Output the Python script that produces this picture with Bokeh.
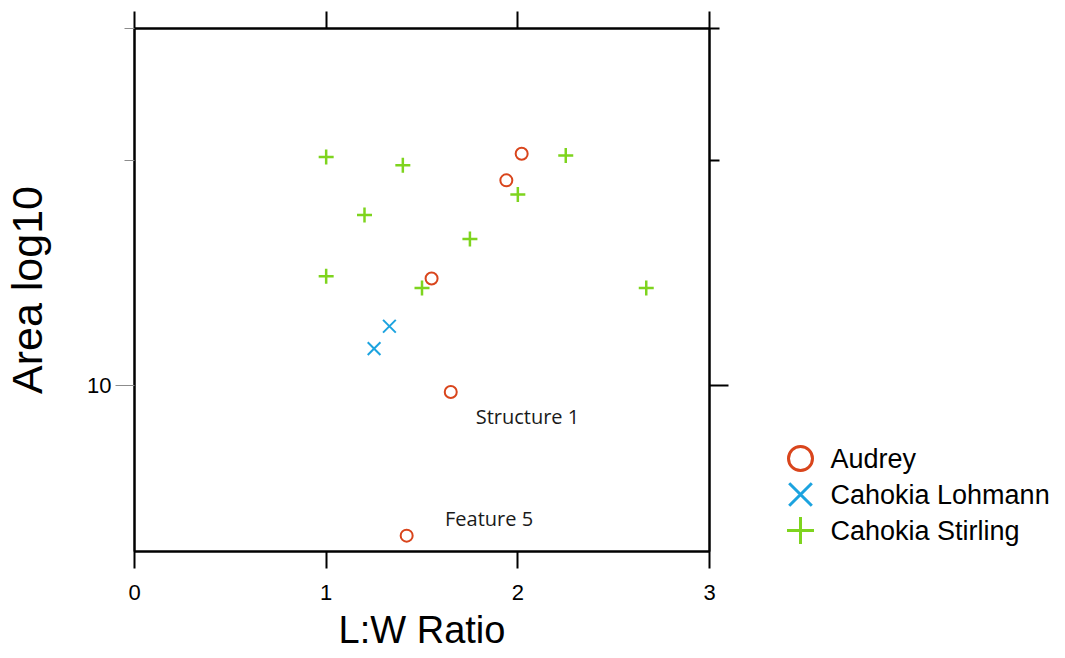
from bokeh.plotting import figure
from bokeh.layouts import row
from bokeh.models import (Range1d, FixedTicker, LinearAxis, LogAxis, PrintfTickFormatter,
                          ColumnDataSource)
from bokeh.core.properties import value
from bokeh.embed import file_html
from bokeh.resources import INLINE

# ---------------- data ----------------
audrey_lw = [2.02, 1.94, 1.55, 1.65, 1.42]
audrey_area = [20.4, 18.8, 13.9, 9.8, 6.3]

lohmann_lw = [1.25, 1.33]
lohmann_area = [11.2, 12.0]

stirling_lw = [1.0, 1.4, 1.2, 2.0, 1.75, 1.0, 1.5, 2.25, 2.67]
stirling_area = [20.2, 19.7, 16.9, 18.0, 15.7, 14.0, 13.5, 20.3, 13.5]

x_ticks = [0, 1, 2, 3]
y_major_ticks = [10]
y_minor_ticks = [20, 30]

annot_text = ["Structure 1", "Feature 5"]
annot_x = [1.78, 1.62]
annot_y = [9.09, 6.64]

series_names = ["Audrey", "Cahokia Lohmann", "Cahokia Stirling"]

# ---------------- styles ----------------
C_AUD = "#D9451C"
C_LOH = "#1CA3DF"
C_STI = "#7ED41E"
series_colors = [C_AUD, C_LOH, C_STI]
series_markers = ["circle", "x", "cross"]
legend_marker_sizes = [24, 32, 27]
FONT = "Liberation Sans"

W_MAIN = 749
W_LEG = 313
H = 657
B_TOP = 28
B_BOTTOM = 106

p = figure(width=W_MAIN, height=H, x_range=Range1d(0, 3), y_range=Range1d(6, 30),
           y_axis_type="log", output_backend="svg", toolbar_location=None,
           min_border_left=133, min_border_right=40, min_border_top=B_TOP,
           min_border_bottom=B_BOTTOM)
p.grid.visible = False
p.outline_line_color = "black"
p.outline_line_width = 2
p.background_fill_color = "white"
p.border_fill_color = "white"

# bottom axis
xa = p.xaxis[0]
xa.ticker = FixedTicker(ticks=x_ticks, minor_ticks=[])
xa.major_tick_in = 0
xa.major_tick_out = 17
xa.minor_tick_in = 0
xa.minor_tick_out = 0
xa.major_tick_line_width = 2
xa.major_tick_line_color = "black"
xa.axis_line_width = 2
xa.axis_line_color = "black"
xa.major_label_text_font = FONT
xa.major_label_text_font_size = "22px"
xa.major_label_text_color = "black"
xa.major_label_standoff = 16
xa.axis_label = "L:W Ratio"
xa.axis_label_text_font = FONT
xa.axis_label_text_font_size = "38px"
xa.axis_label_text_font_style = "normal"
xa.axis_label_text_color = "black"
xa.axis_label_standoff = 6

# left axis
ya = p.yaxis[0]
ya.ticker = FixedTicker(ticks=y_major_ticks, minor_ticks=y_minor_ticks)
ya.formatter = PrintfTickFormatter(format="%d")
ya.major_tick_in = 0
ya.major_tick_out = 19
ya.minor_tick_in = 0
ya.minor_tick_out = 10
ya.major_tick_line_color = "#8c8c8c"
ya.minor_tick_line_color = "#8c8c8c"
ya.major_tick_line_width = 1
ya.minor_tick_line_width = 1
ya.axis_line_width = 2
ya.axis_line_color = "black"
ya.major_label_text_font = FONT
ya.major_label_text_font_size = "22px"
ya.major_label_text_color = "black"
ya.major_label_standoff = 4
ya.axis_label = "Area log10"
ya.axis_label_text_font = FONT
ya.axis_label_text_font_size = "43px"
ya.axis_label_text_font_style = "normal"
ya.axis_label_text_color = "black"
ya.axis_label_standoff = 33

# top axis (ticks only)
top_axis = LinearAxis(ticker=FixedTicker(ticks=[], minor_ticks=x_ticks),
                      major_tick_in=0, major_tick_out=0, minor_tick_in=0, minor_tick_out=17,
                      minor_tick_line_width=2, minor_tick_line_color="black",
                      axis_line_width=2, axis_line_color="black")
p.add_layout(top_axis, "above")

# right axis (ticks only, labels not drawn)
right_axis = LogAxis(ticker=FixedTicker(ticks=y_major_ticks, minor_ticks=y_minor_ticks),
                     major_tick_in=0, major_tick_out=19, minor_tick_in=0, minor_tick_out=10,
                     major_tick_line_width=2, major_tick_line_color="black",
                     minor_tick_line_width=2, minor_tick_line_color="black",
                     axis_line_width=2, axis_line_color="black",
                     major_label_text_color=None, major_label_text_font_size="8px",
                     major_label_standoff=0)
p.add_layout(right_axis, "right")

# points
p.scatter(audrey_lw, audrey_area, marker="circle", size=12, fill_color=None,
          line_color=C_AUD, line_width=2)
p.scatter(lohmann_lw, lohmann_area, marker="x", size=18,
          line_color=C_LOH, line_width=2)
p.scatter(stirling_lw, stirling_area, marker="cross", size=15,
          line_color=C_STI, line_width=2.5)

# annotations
p.text(x=annot_x, y=annot_y, text=annot_text, text_font=value("Open Sans"),
       text_font_size="20px", text_baseline="alphabetic", text_align="left",
       text_color="#1a1a1a")

# ---------------- legend panel (screen-like coordinates) ----------------
frame_bottom_px = H - B_BOTTOM
lf = figure(width=W_LEG, height=H, x_range=Range1d(0, W_LEG),
            y_range=Range1d(frame_bottom_px, B_TOP),
            output_backend="svg", toolbar_location=None,
            min_border_left=0, min_border_right=0,
            min_border_top=B_TOP, min_border_bottom=B_BOTTOM,
            x_axis_location=None, y_axis_location=None)
lf.grid.visible = False
lf.outline_line_color = None
lf.background_fill_color = "white"
lf.border_fill_color = "white"

leg_top = 458
leg_pitch = 36
leg_marker_x = 51
leg_text_x = 81
rows_y = [leg_top + i * leg_pitch for i in range(len(series_names))]

leg_src = ColumnDataSource(dict(
    x=[leg_marker_x] * len(series_names),
    tx=[leg_text_x] * len(series_names),
    y=rows_y,
    marker=series_markers,
    size=legend_marker_sizes,
    color=series_colors,
    name=series_names,
))
lf.scatter(x="x", y="y", marker="marker", size="size", fill_color=None,
           line_color="color", line_width=3, source=leg_src)
lf.text(x="tx", y="y", text="name", text_font=value(FONT), text_font_size="27px",
        text_baseline="middle", text_align="left", text_color="black", source=leg_src)

layout = row(p, lf, spacing=0)
open("out.html", "w").write(file_html(layout, INLINE))
